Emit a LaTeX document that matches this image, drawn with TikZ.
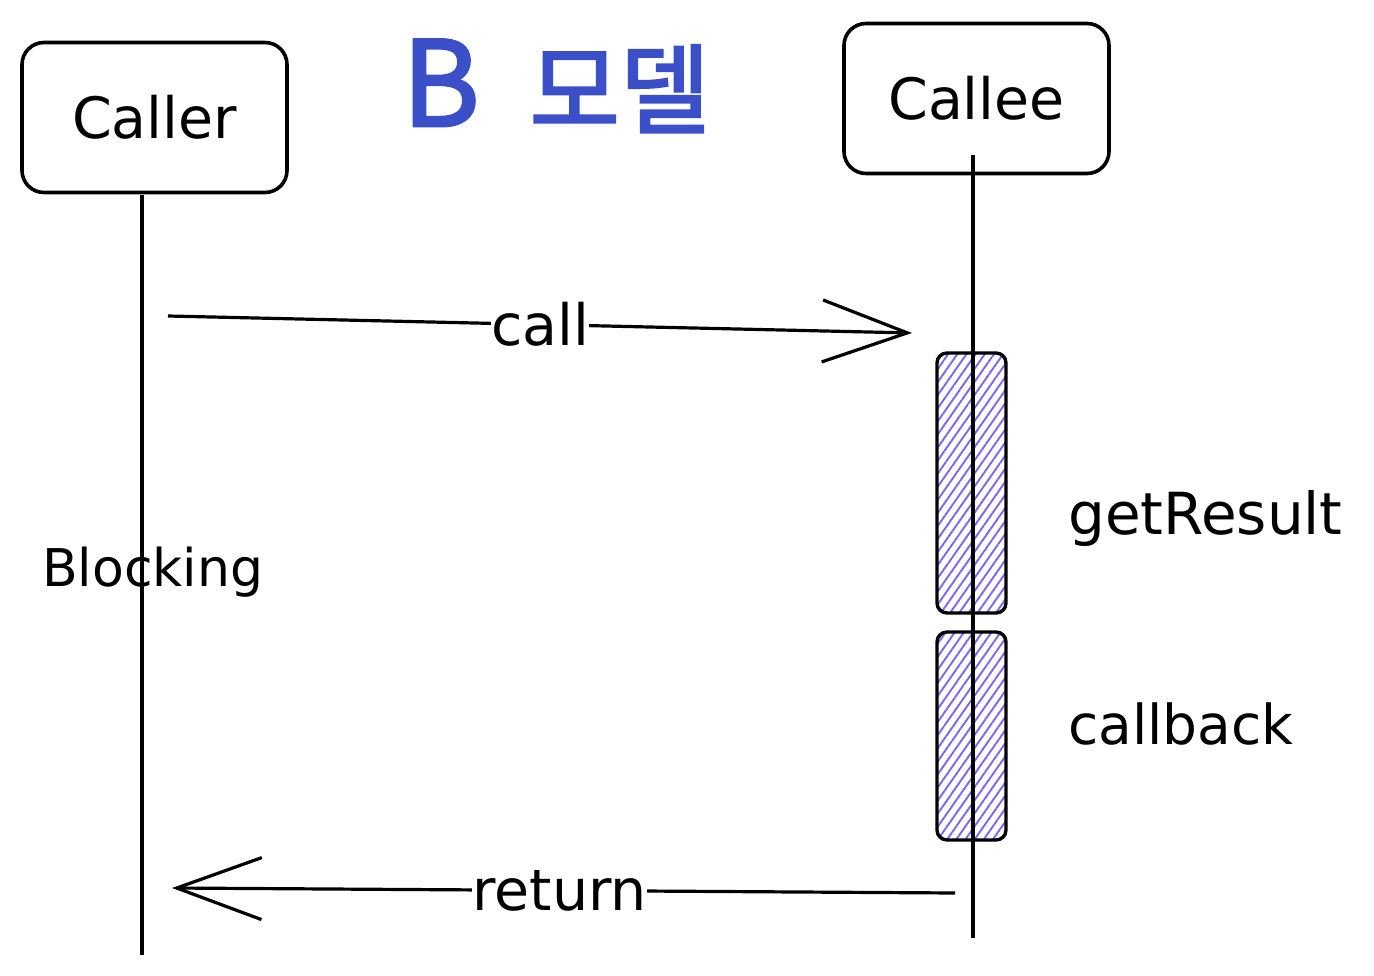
\documentclass[tikz,border=0pt]{standalone}
\usepackage{fontspec}
\setmainfont{DejaVu Sans}
\newfontfamily\krfont[FakeBold=2.5]{Noto Sans CJK KR}
\usetikzlibrary{arrows.meta,patterns.meta}
\definecolor{titleblue}{HTML}{3B4FC8}
\definecolor{hatch}{HTML}{7B68F0}
\begin{document}
\begin{tikzpicture}[x=1pt,y=-1pt,
  actor/.style={draw=black,line width=3.6pt,rounded corners=22pt,minimum width=265pt,minimum height=150pt,font=\fontsize{57}{66}\selectfont},
  life/.style={line width=3.2pt},
  act/.style={draw=black,line width=3.4pt,rounded corners=10pt,pattern={Lines[angle=55,distance=7.5pt,line width=1.9pt]},pattern color=hatch},
  msg/.style={line width=3.2pt,-{Straight Barb[length=85pt,width=62pt,line width=3.2pt]}},
  lbl/.style={font=\fontsize{57}{66}\selectfont,fill=white,inner sep=0pt},
  side/.style={font=\fontsize{56}{66}\selectfont,anchor=west,inner sep=0pt}]
\useasboundingbox (0,0) rectangle (1374,976);
\node[actor] (caller) at (154.5,117.5) {Caller};
\node[actor] (callee) at (976.5,98.5) {Callee};
\node[font=\krfont\fontsize{98}{110}\selectfont,text=titleblue] (title) at (556,86) {{\fontsize{118}{120}\selectfont B}\hspace{50pt}모델};
\coordinate (callerTop) at (142,195);
\coordinate (callerBot) at (142,955);
\coordinate (calleeTop) at (973,155);
\coordinate (calleeBot) at (973,938);
\node[act,minimum width=69pt,minimum height=260pt] (act1) at (971.5,483) {};
\node[act,minimum width=69pt,minimum height=208pt] (act2) at (971.5,736) {};
\draw[life] (callerTop) -- (callerBot);
\draw[life] (calleeTop) -- (calleeBot);
\coordinate (callS) at (168,316);
\coordinate (callE) at (912,333);
\coordinate (retS) at (955,893);
\coordinate (retE) at (172,888);
\draw[msg] (callS) -- node[lbl,pos=0.5] (calllbl) {call} (callE);
\draw[msg] (retS) -- node[lbl,pos=0.505] (retlbl) {return} (retE);
\node[side,font=\fontsize{52}{62}\selectfont] (block) at (42,572) {Blocking};
\node[side,font=\fontsize{58}{66}\selectfont] (getres) at (1068,518) {getResult};
\node[side,font=\fontsize{55}{66}\selectfont] (cb) at (1068,724) {callback};
\end{tikzpicture}
\end{document}
